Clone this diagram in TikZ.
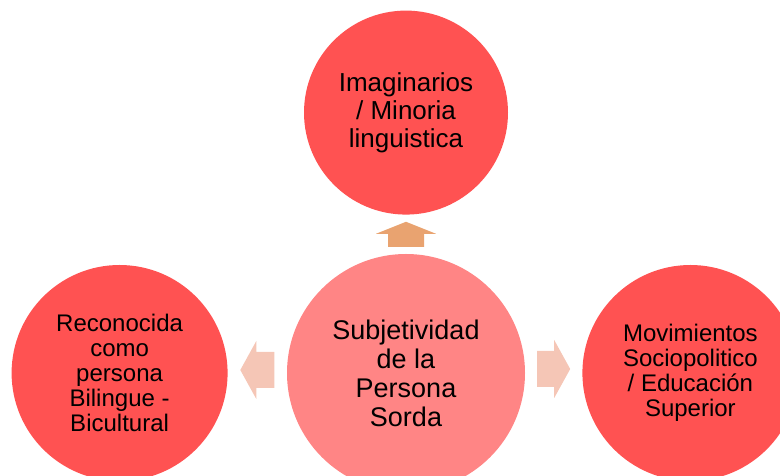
\documentclass[tikz,border=0pt]{standalone}
\usepackage{fontspec}
\setmainfont{Liberation Sans}
\usetikzlibrary{positioning, calc}

\definecolor{ringred}{RGB}{255,82,82}
\definecolor{corepink}{RGB}{255,133,133}
\definecolor{uporange}{RGB}{233,163,112}
\definecolor{sidepeach}{RGB}{245,198,182}

\begin{document}
\begin{tikzpicture}[x=1pt, y=1pt,
  every node/.style={circle, inner sep=0pt, align=center, text=black},
  outer/.style={fill=ringred, minimum size=216pt, font=\fontsize{24}{25}\selectfont},
  core/.style={fill=corepink, minimum size=238pt, font=\fontsize{27}{29}\selectfont},
  uparrow/.style={fill=uporange},
  sidearrow/.style={fill=sidepeach}]
\useasboundingbox (0,0) rectangle (780,476);

% circles
\node[core] (core) at (406,103) {Subjetividad\\de la\\Persona\\Sorda};
\node[outer, minimum size=204pt, font=\fontsize{26}{28}\selectfont, above=39pt of core] (top)
  {Imaginarios\\/ Minoria\\linguistica};
\node[outer, left=59pt of core] (left) {Reconocida\\como\\persona\\Bilingue -\\Bicultural};
\node[outer, right=57pt of core] (right) {Movimientos\\Sociopolitico\\/ Educación\\Superior};

% block arrows
\coordinate (ua) at ($(core.north)!0.5!(top.south)$);
\coordinate (la) at ($(left.east)!0.5!(core.west)+(0,3)$);
\coordinate (ra) at ($(core.east)!0.5!(right.west)+(0,4)$);
\fill[uparrow] ($(ua)+(-18,-12.5)$) -- ++(0,13) -- ++(-12,0) -- ++(30,12)
  -- ++(30,-12) -- ++(-12,0) -- ++(0,-13) -- cycle;
\fill[sidearrow] ($(la)+(17,-18)$) -- ++(-18,0) -- ++(0,-11) -- ++(-16,29)
  -- ++(16,29) -- ++(0,-11) -- ++(18,0) -- cycle;
\fill[sidearrow] ($(ra)+(-16.5,-18)$) -- ++(17,0) -- ++(0,-11) -- ++(16,29)
  -- ++(-16,29) -- ++(0,-11) -- ++(-17,0) -- cycle;
\end{tikzpicture}
\end{document}
